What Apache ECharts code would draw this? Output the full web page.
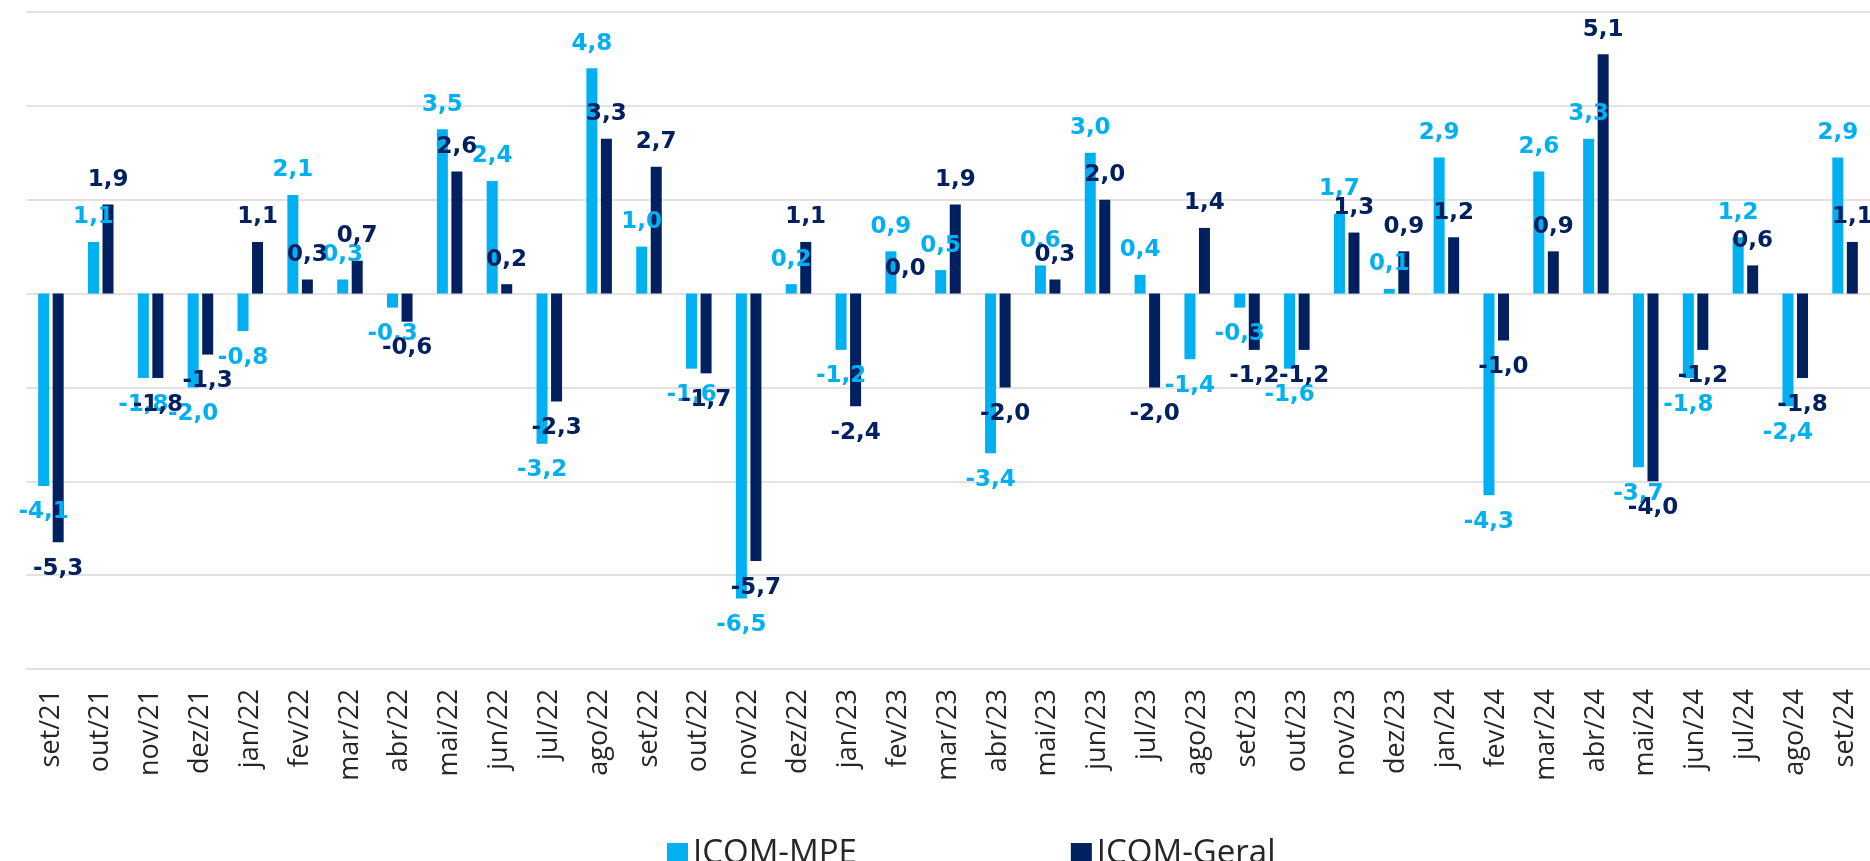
<!DOCTYPE html>
<html>
<head>
<meta charset="utf-8">
<script src="https://cdn.jsdelivr.net/npm/echarts@6/dist/echarts.min.js"></script>
<style>
  html, body { margin: 0; padding: 0; background: #ffffff; }
  #chart { width: 1870px; height: 861px; }
</style>
</head>
<body>
<div id="chart"></div>
<script>
const categories = ['set/21','out/21','nov/21','dez/21','jan/22','fev/22','mar/22','abr/22','mai/22','jun/22','jul/22','ago/22','set/22','out/22','nov/22','dez/22','jan/23','fev/23','mar/23','abr/23','mai/23','jun/23','jul/23','ago/23','set/23','out/23','nov/23','dez/23','jan/24','fev/24','mar/24','abr/24','mai/24','jun/24','jul/24','ago/24','set/24'];

const icomMPE = [-4.1, 1.1, -1.8, -2.0, -0.8, 2.1, 0.3, -0.3, 3.5, 2.4, -3.2, 4.8, 1.0, -1.6, -6.5, 0.2, -1.2, 0.9, 0.5, -3.4, 0.6, 3.0, 0.4, -1.4, -0.3, -1.6, 1.7, 0.1, 2.9, -4.3, 2.6, 3.3, -3.7, -1.8, 1.2, -2.4, 2.9];

const icomGeral = [-5.3, 1.9, -1.8, -1.3, 1.1, 0.3, 0.7, -0.6, 2.6, 0.2, -2.3, 3.3, 2.7, -1.7, -5.7, 1.1, -2.4, 0.0, 1.9, -2.0, 0.3, 2.0, -2.0, 1.4, -1.2, -1.2, 1.3, 0.9, 1.2, -1.0, 0.9, 5.1, -4.0, -1.2, 0.6, -1.8, 1.1];

const seriesNames = ['ICOM-MPE', 'ICOM-Geral'];
const seriesColors = ['#00B0F0', '#002060'];

const yMin = -8, yMax = 6, yInterval = 2;

function fmt(v) { return v.toFixed(1).replace('.', ','); }

function buildData(arr) {
  return arr.map(v => ({
    value: v,
    label: { position: v < 0 ? 'bottom' : 'top', distance: v < 0 ? 15 : 13 }
  }));
}

const chart = echarts.init(document.getElementById('chart'), null, { renderer: 'canvas' });

const labelFont = { fontFamily: 'DejaVu Sans', fontWeight: 'bold', fontSize: 23, lineHeight: 23 };

chart.setOption({
  animation: false,
  backgroundColor: '#ffffff',
  grid: { left: 26, top: 12, width: 1859, height: 657, containLabel: false },
  legend: {
    data: seriesNames,
    left: 662,
    top: 832,
    icon: 'rect',
    itemWidth: 21,
    itemHeight: 21,
    itemGap: 214,
    textStyle: { fontFamily: 'Open Sans', fontSize: 33, color: '#262626', lineHeight: 33 }
  },
  xAxis: {
    type: 'category',
    data: categories,
    position: 'bottom',
    axisLine: { show: false, onZero: false },
    axisTick: { show: false },
    axisLabel: {
      rotate: 90,
      margin: 20,
      interval: 0,
      fontFamily: 'Open Sans',
      fontSize: 27,
      color: '#262626'
    },
    splitLine: { show: false }
  },
  yAxis: {
    type: 'value',
    min: yMin,
    max: yMax,
    interval: yInterval,
    axisLine: { show: false },
    axisTick: { show: false },
    axisLabel: { show: false },
    splitLine: { show: true, lineStyle: { color: '#d9d9d9', width: 1.5 } }
  },
  series: [
    {
      name: seriesNames[0],
      type: 'bar',
      data: buildData(icomMPE),
      barWidth: 11,
      barGap: '32%',
      itemStyle: { color: seriesColors[0] },
      label: Object.assign({ show: true, color: seriesColors[0], formatter: p => fmt(p.value) }, labelFont)
    },
    {
      name: seriesNames[1],
      type: 'bar',
      data: buildData(icomGeral),
      barWidth: 11,
      barGap: '32%',
      itemStyle: { color: seriesColors[1] },
      label: Object.assign({ show: true, color: seriesColors[1], formatter: p => fmt(p.value) }, labelFont)
    }
  ]
});
</script>
</body>
</html>
